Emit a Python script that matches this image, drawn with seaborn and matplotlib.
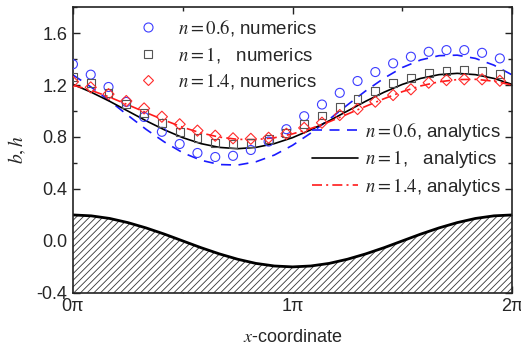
import matplotlib
matplotlib.use("Agg")
import matplotlib.pyplot as plt
import seaborn as sns
import pandas as pd
from matplotlib.ticker import MultipleLocator
from matplotlib.lines import Line2D

# x in units of pi
x_num = [0, 0.081, 0.162, 0.243, 0.324, 0.405, 0.486, 0.567, 0.648, 0.729, 0.81, 0.891,
         0.972, 1.053, 1.134, 1.215, 1.296, 1.377, 1.458, 1.539, 1.62, 1.701, 1.782, 1.863, 1.944]
num_06 = [1.36, 1.28, 1.185, 1.07, 0.954, 0.84, 0.746, 0.677, 0.646, 0.655, 0.70, 0.765,
          0.86, 0.96, 1.05, 1.14, 1.231, 1.30, 1.367, 1.418, 1.456, 1.469, 1.469, 1.448, 1.405]
num_10 = [1.264, 1.213, 1.136, 1.054, 0.982, 0.905, 0.836, 0.79, 0.755, 0.746, 0.752, 0.785,
          0.828, 0.90, 0.965, 1.033, 1.092, 1.156, 1.213, 1.252, 1.295, 1.31, 1.315, 1.31, 1.285]
num_14 = [1.225, 1.182, 1.13, 1.077, 1.02, 0.956, 0.898, 0.849, 0.81, 0.79, 0.786, 0.794,
          0.825, 0.87, 0.91, 0.969, 1.015, 1.072, 1.123, 1.167, 1.218, 1.238, 1.244, 1.244, 1.233]

x_an = [0, 0.083, 0.167, 0.25, 0.333, 0.417, 0.5, 0.583, 0.667, 0.75, 0.833, 0.917, 1.0,
        1.083, 1.167, 1.25, 1.333, 1.417, 1.5, 1.583, 1.667, 1.75, 1.833, 1.917, 2.0]
an_06 = [1.278, 1.184, 1.078, 0.967, 0.859, 0.761, 0.679, 0.621, 0.588, 0.584, 0.609, 0.661, 0.736,
         0.830, 0.936, 1.047, 1.155, 1.253, 1.335, 1.393, 1.426, 1.430, 1.405, 1.353, 1.278]
an_10 = [1.205, 1.145, 1.075, 1.0, 0.925, 0.855, 0.795, 0.749, 0.72, 0.71, 0.72, 0.749, 0.795,
         0.855, 0.925, 1.0, 1.075, 1.145, 1.205, 1.251, 1.28, 1.29, 1.28, 1.251, 1.205]
an_14 = [1.200, 1.159, 1.107, 1.048, 0.988, 0.929, 0.875, 0.831, 0.799, 0.782, 0.780, 0.794, 0.824,
         0.865, 0.917, 0.976, 1.036, 1.095, 1.149, 1.193, 1.225, 1.242, 1.244, 1.230, 1.200]
wall = [0.2, 0.193, 0.173, 0.141, 0.1, 0.052, 0.0, -0.052, -0.1, -0.141, -0.173, -0.193, -0.2,
        -0.193, -0.173, -0.141, -0.1, -0.052, 0.0, 0.052, 0.1, 0.141, 0.173, 0.193, 0.2]

sns.set_style("ticks")
plt.rcParams["font.family"] = ["Liberation Sans", "DejaVu Sans"]
plt.rcParams["mathtext.fontset"] = "stix"
plt.rcParams["hatch.linewidth"] = 0.6
plt.rcParams["hatch.color"] = "#333333"

fig, ax = plt.subplots(figsize=(5.21, 3.55), dpi=100)
fig.subplots_adjust(left=0.140, right=0.983, top=0.980, bottom=0.175)

ax.fill_between(x_an, wall, -0.4, facecolor="white", edgecolor="#333333",
                hatch="/////", linewidth=0)
sns.lineplot(x=x_an, y=wall, color="black", linewidth=2.0, ax=ax)

sns.lineplot(x=x_an, y=an_06, color="#1a1aff", linewidth=1.2, ax=ax)
ax.lines[-1].set_dashes([6, 4.5])
sns.lineplot(x=x_an, y=an_10, color="black", linewidth=1.2, ax=ax)
sns.lineplot(x=x_an, y=an_14, color="#ff1a1a", linewidth=1.2, ax=ax)
ax.lines[-1].set_dashes([6, 2.5, 1.2, 2.5])

sns.scatterplot(x=x_num, y=num_06, marker="o", s=42, facecolors="none",
                edgecolor="#3d3dff", linewidth=0.8, ax=ax, zorder=5)
sns.scatterplot(x=x_num, y=num_10, marker="s", s=32, facecolors="none",
                edgecolor="#555555", linewidth=0.8, ax=ax, zorder=5)
sns.scatterplot(x=x_num, y=num_14, marker="D", s=32, facecolors="none",
                edgecolor="#ff2a2a", linewidth=0.8, ax=ax, zorder=5)

ax.set_xlim(0, 2)
ax.set_ylim(-0.4, 1.8)
ax.set_xticks([0, 1, 2])
ax.set_xticklabels(["0π", "1π", "2π"])
ax.xaxis.set_minor_locator(MultipleLocator(0.5))
ax.set_yticks([-0.4, 0.0, 0.4, 0.8, 1.2, 1.6])
ax.set_yticklabels(["-0.4", "0.0", "0.4", "0.8", "1.2", "1.6"])
ax.yaxis.set_minor_locator(MultipleLocator(0.2))
ax.tick_params(which="both", direction="in", top=True, right=True, labelsize=13,
               color="#222222", width=1.0)
ax.tick_params(which="major", length=5, pad=4)
ax.tick_params(which="minor", length=3)
for sp in ax.spines.values():
    sp.set_color("#222222")
    sp.set_linewidth(1.2)

ax.set_xlabel(r"$\mathit{x}$-coordinate", fontsize=13, labelpad=10)
ax.set_ylabel(r"$\mathit{b,h}$", fontsize=14, labelpad=6)

h1 = [Line2D([], [], ls="none", marker="o", ms=6.5, mfc="none", mec="#3d3dff", mew=0.8),
      Line2D([], [], ls="none", marker="s", ms=5.6, mfc="none", mec="#555555", mew=0.8),
      Line2D([], [], ls="none", marker="D", ms=5.6, mfc="none", mec="#ff2a2a", mew=0.8)]
l1 = [r"$\mathit{n{=}0.6}$, numerics", r"$\mathit{n{=}1}$,   numerics",
      r"$\mathit{n{=}1.4}$, numerics"]
leg1 = ax.legend(h1, l1, loc="upper left", bbox_to_anchor=(0.108, 1.025), frameon=False,
                 fontsize=13.5, handlelength=1.2, handletextpad=0.95, labelspacing=0.36)
ax.add_artist(leg1)

h2 = [Line2D([], [], color="#1a1aff", lw=1.2, dashes=[6, 4.5]),
      Line2D([], [], color="black", lw=1.2),
      Line2D([], [], color="#ff1a1a", lw=1.2, dashes=[6, 2.5, 1.2, 2.5])]
l2 = [r"$\mathit{n{=}0.6}$, analytics", r"$\mathit{n{=}1}$,   analytics",
      r"$\mathit{n{=}1.4}$, analytics"]
ax.legend(h2, l2, loc="upper right", bbox_to_anchor=(1.013, 0.665), frameon=False,
          fontsize=13.5, handlelength=2.45, handletextpad=0.37, labelspacing=0.3)

plt.savefig("out.png", dpi=100)
